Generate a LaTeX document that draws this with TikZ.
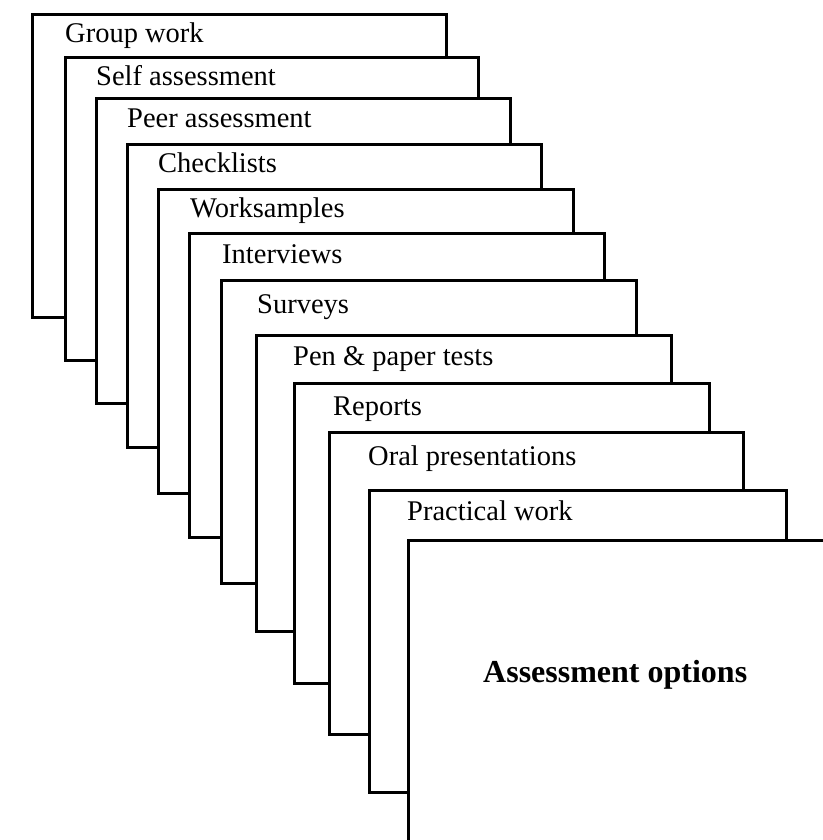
\documentclass[tikz,border=0pt]{standalone}
\usepackage{fontspec}
\setmainfont{Liberation Serif}
\tikzset{
  card/.style={draw=black, line width=3pt, line join=miter, fill=white},
  lbl/.style={anchor=base west, inner sep=0pt, font=\fontsize{28.5}{32}\selectfont},
  mainlbl/.style={anchor=base west, inner sep=0pt, font=\fontsize{32}{36}\selectfont\bfseries}
}
\begin{document}
\begin{tikzpicture}[x=1pt,y=-1pt]
\useasboundingbox (0,0) rectangle (822,840);
% cards: nextleft,bottom -- left,bottom -- left,top -- right,top -- right,nexttop
\draw[card] (65,317) -- (32,317) -- (32,15) -- (446,15) -- (446,58);
\draw[card] (96,360) -- (65,360) -- (65,58) -- (478,58) -- (478,99);
\draw[card] (127,403) -- (96,403) -- (96,99) -- (510,99) -- (510,144);
\draw[card] (158,447) -- (127,447) -- (127,144) -- (541,144) -- (541,189);
\draw[card] (189,493) -- (158,493) -- (158,189) -- (573,189) -- (573,233);
\draw[card] (221,537) -- (189,537) -- (189,233) -- (604,233) -- (604,280);
\draw[card] (256,583) -- (221,583) -- (221,280) -- (636,280) -- (636,335);
\draw[card] (294,631) -- (256,631) -- (256,335) -- (671,335) -- (671,383);
\draw[card] (329,683) -- (294,683) -- (294,383) -- (709,383) -- (709,432);
\draw[card] (369,734) -- (329,734) -- (329,432) -- (743,432) -- (743,490);
\draw[card] (408,792) -- (369,792) -- (369,490) -- (786,490) -- (786,540);
\draw[card] (408,845) -- (408,540) -- (830,540);

\node[lbl] (l1) at (65,43) {Group work};
\node[lbl] (l2) at (96,86) {Self assessment};
\node[lbl] (l3) at (127,128) {Peer assessment};
\node[lbl] (l4) at (158,172) {Checklists};
\node[lbl] (l5) at (190,217) {Worksamples};
\node[lbl] (l6) at (222,263) {Interviews};
\node[lbl] (l7) at (257,313) {Surveys};
\node[lbl] (l8) at (293,365) {Pen \& paper tests};
\node[lbl] (l9) at (333,415) {Reports};
\node[lbl] (l10) at (368,465) {Oral presentations};
\node[lbl] (l11) at (407,520) {Practical work};
\node[mainlbl] (main) at (483,682) {Assessment options};
\end{tikzpicture}
\end{document}
